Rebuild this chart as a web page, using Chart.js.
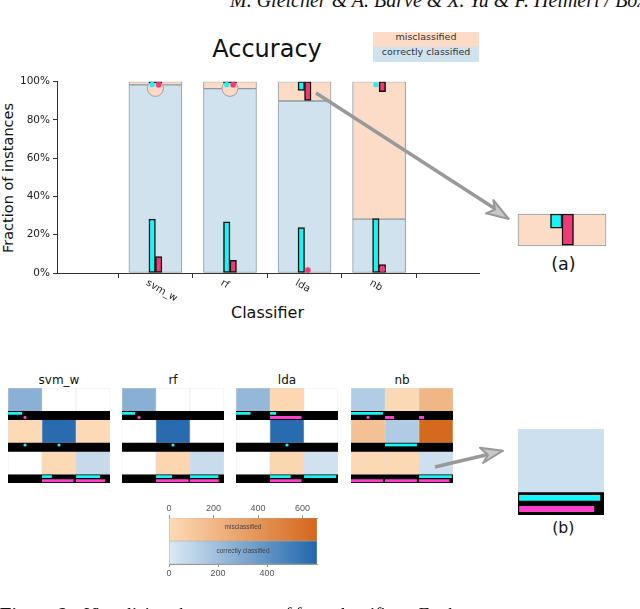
<!DOCTYPE html>
<html>
<head>
<meta charset="utf-8">
<script src="https://cdn.jsdelivr.net/npm/chart.js@4.4.1/dist/chart.umd.min.js"></script>
<style>
  body { margin: 0; width: 640px; height: 609px; position: relative; overflow: hidden; background: #fff; font-family: "DejaVu Sans", sans-serif; color: #111; }
  .box { position: absolute; }
  .t { position: absolute; white-space: nowrap; }
  .c { text-align: center; }
</style>
</head>
<body>

<div class="t" style="left:230px;top:-10.3px;font:italic 20px/20px 'Liberation Serif',serif;">M. Gleicher &amp; A. Barve &amp; X. Yu &amp; F. Heimerl / Boxer</div>

<div class="t c" style="left:167px;width:200px;top:35.5px;font-size:24px;line-height:26px;">Accuracy</div>
<div class="box" style="left:373px;top:32px;width:106px;height:15px;background:#fddcc7;"></div>
<div class="box" style="left:373px;top:47px;width:106px;height:15px;background:#cfe2ee;"></div>
<div class="t c" style="left:373px;width:106px;top:32.3px;font-size:9.5px;line-height:10px;color:#333;">misclassified</div>
<div class="t c" style="left:373px;width:106px;top:46.7px;font-size:9.5px;line-height:10px;color:#333;">correctly classified</div>
<div class="t c" style="left:-91.7px;width:200px;top:169.5px;font-size:14.5px;line-height:16px;transform:rotate(-90deg);">Fraction of instances</div>
<div class="t c" style="left:167.5px;width:200px;top:303.7px;font-size:16px;line-height:18px;">Classifier</div>

<div class="box" style="left:0;top:70px;width:490px;height:265px;"><canvas id="main"></canvas></div>
<div class="box" style="left:517px;top:213px;width:90px;height:34px;"><canvas id="zoomA"></canvas></div>
<div class="t c" style="left:513.5px;width:100px;top:254px;font-size:17.5px;line-height:20px;">(a)</div>

<div class="t c" id="mt0" style="left:8px;width:102px;top:372.5px;font-size:12px;line-height:14px;"></div>
<div class="t c" id="mt1" style="left:122px;width:102px;top:372.5px;font-size:12px;line-height:14px;"></div>
<div class="t c" id="mt2" style="left:236px;width:102px;top:372.5px;font-size:12px;line-height:14px;"></div>
<div class="t c" id="mt3" style="left:351px;width:102px;top:372.5px;font-size:12px;line-height:14px;"></div>
<div class="box" style="left:8px;top:388px;width:102px;height:95px;"><canvas id="m0"></canvas></div>
<div class="box" style="left:122px;top:388px;width:102px;height:95px;"><canvas id="m1"></canvas></div>
<div class="box" style="left:236px;top:388px;width:102px;height:95px;"><canvas id="m2"></canvas></div>
<div class="box" style="left:351px;top:388px;width:102px;height:95px;"><canvas id="m3"></canvas></div>

<div class="box" style="left:518px;top:429px;width:86px;height:86px;"><canvas id="zoomB"></canvas></div>
<div class="t c" style="left:513.3px;width:100px;top:519.2px;font-size:15.7px;line-height:18px;">(b)</div>

<div class="box" style="left:150px;top:495px;width:185px;height:85px;"><canvas id="cbar"></canvas></div>
<div class="t c" style="left:193px;width:100px;top:523px;font:6.5px/8px 'Liberation Sans',sans-serif;color:#444;">misclassified</div>
<div class="t c" style="left:193px;width:100px;top:547px;font:6.5px/8px 'Liberation Sans',sans-serif;color:#444;">correctly classified</div>

<svg class="box" style="left:0;top:0;" width="640" height="609">
  <line x1="316" y1="93" x2="497" y2="210" stroke="#999" stroke-width="3.5"/>
  <polygon points="508.7,219 493.3,200 495,209.5 486,213.3" fill="#c8c8c8" stroke="#999" stroke-width="2" stroke-linejoin="round"/>
  <line x1="435" y1="467" x2="492" y2="453.5" stroke="#999" stroke-width="3.5"/>
  <polygon points="503,450.7 480,447.7 488,455 483,463" fill="#c8c8c8" stroke="#999" stroke-width="2" stroke-linejoin="round"/>
</svg>

<div class="t" style="left:0;top:604.5px;font:19px/19px 'Liberation Serif',serif;"><b>Figure 2:</b>&nbsp; <i>Visualizing the accuracy of four classifiers. Each</i></div>

<script>
Chart.defaults.animation = false;
Chart.defaults.font.family = 'DejaVu Sans';
Chart.defaults.plugins.legend.display = false;
Chart.defaults.plugins.tooltip.enabled = false;
Chart.defaults.layout.autoPadding = false;

// accuracy chart (percent of instances)
const classifiers = ['svm_w', 'rf', 'lda', 'nb'];
const correctPct = [98.3, 96.4, 89.9, 28.2];
const cyanLow = [28.2, 26.8, 23.8, 28.4];
const pinkLow = [8.6, 6.6, 0, 4.4];
const cyanHigh = [0.6, 0.6, 4.5, 0];
const pinkHigh = [0.6, 0.6, 9.8, 5.2];
const cyanDot = [98.4, 98.4, null, 98.4];
const pinkDot = [98.4, 98.4, 1.5, 2.0];
const halo = [96.5, 96.5, null, null];
const yTicks = [0, 20, 40, 60, 80, 100];
const zoomIdx = 2;

// confusion matrices: counts, and fractions for the cyan / pink bars under each row
const counts = [
  [[265, 0, 0], [8, 580, 8], [0, 8, 71]],
  [[270, 0, 0], [0, 580, 0], [0, 30, 65]],
  [[229, 22, 0], [0, 580, 0], [0, 25, 40]],
  [[135, 10, 212], [149, 140, 650], [12, 12, 48]]
];
const cyanFrac = [
  [[0.42, 0, 0], [0.01, 0.01, 0], [0, 0.29, 0.71]],
  [[0.39, 0, 0], [0, 0.01, 0], [0, 0.47, 0.84]],
  [[0.43, 0.18, 0], [0, 0.01, 0], [0, 0.61, 0.95]],
  [[0.94, 0, 0], [0, 0.94, 0], [0, 0, 0.97]]
];
const pinkFrac = [
  [[0.01, 0, 0], [0, 0, 0], [0, 0.93, 0.86]],
  [[0.01, 0, 0], [0, 0, 0], [0, 0.96, 0.85]],
  [[0, 0.93, 0], [0, 0, 0], [0, 0.93, 0]],
  [[0.01, 0.27, 0.15], [0, 0, 0], [0.94, 0.94, 0.9]]
];
const misTicks = [0, 200, 400, 600];
const corTicks = [0, 200, 400];
const misMax = 665;
const corMax = 604;

const CYAN = '#17f6f6', PINK = '#ee3b78', MAG = '#ff40c8';
const blueLo = [220, 234, 245], blueHi = [33, 102, 172];
const orangeLo = [253, 219, 183], orangeHi = [212, 102, 26];

function mix(a, b, t) {
  t = Math.max(0, Math.min(1, t));
  return 'rgb(' + a.map((v, i) => Math.round(v + (b[i] - v) * t)).join(',') + ')';
}
function cellColor(v, diag) {
  if (!v) return '#ffffff';
  return diag ? mix(blueLo, blueHi, v / corMax) : mix(orangeLo, orangeHi, v / misMax);
}

// moves scatter points sideways so they sit over the cyan / pink bar
const shiftPlugin = {
  id: 'shift',
  afterDatasetsUpdate(chart) {
    chart.data.datasets.forEach((ds, i) => {
      if (ds.shiftPx) chart.getDatasetMeta(i).data.forEach(p => { p.x += ds.shiftPx; });
    });
  }
};

const xLabels = {
  id: 'xlabels',
  afterDraw(chart) {
    const { ctx } = chart;
    const x = chart.scales.x;
    ctx.save();
    ctx.font = '10px "DejaVu Sans"';
    ctx.fillStyle = '#222';
    ctx.textAlign = 'left';
    ctx.textBaseline = 'top';
    classifiers.forEach((name, i) => {
      ctx.save();
      ctx.translate(x.getPixelForValue(i + 1) - 6, x.top + 5);
      ctx.rotate(Math.PI / 6);
      ctx.fillText(name, 0, 0);
      ctx.restore();
    });
    ctx.restore();
  }
};

const pos = classifiers.map((_, i) => i + 1);
const bg = (arr, fn) => arr.map((v, i) => ({ x: pos[i], y: fn(v, i) }));
const keep = (arr, fn) => arr.map((v, i) => v ? { x: pos[i], y: fn(v, i) } : null).filter(Boolean);
const dots = arr => arr.map((v, i) => v == null ? null : { x: pos[i], y: v }).filter(Boolean);

const bigBar = { type: 'bar', grouped: false, barThickness: 53, borderColor: '#8f9ba3', borderWidth: 1, borderSkipped: false, order: 20 };
const smallBar = { type: 'bar', barThickness: 6.5, borderColor: '#111', borderWidth: 1.5, borderSkipped: false };

new Chart(document.getElementById('main'), {
  type: 'bar',
  data: {
    datasets: [
      { ...bigBar, label: 'correctly classified', data: bg(correctPct, v => [0, v]), backgroundColor: '#cfe2ee' },
      { ...bigBar, label: 'misclassified', data: bg(correctPct, v => [v, 100]), backgroundColor: '#fddcc7' },
      { type: 'scatter', data: dots(halo), pointRadius: 8, backgroundColor: '#fbd9c5', borderColor: '#a5a09c', borderWidth: 1, order: 15 },
      { ...smallBar, stack: 'c', order: 5, data: keep(cyanLow, v => [0, v]), backgroundColor: CYAN },
      { ...smallBar, stack: 'c', order: 5, data: keep(cyanHigh, v => [100 - v, 100]), backgroundColor: CYAN },
      { ...smallBar, stack: 'p', order: 6, data: keep(pinkLow, v => [0, v]), backgroundColor: PINK },
      { ...smallBar, stack: 'p', order: 6, data: keep(pinkHigh, v => [100 - v, 100]), backgroundColor: PINK },
      { type: 'scatter', data: dots(cyanDot), shiftPx: -3.25, pointRadius: 2.6, backgroundColor: CYAN, borderWidth: 0, order: 1 },
      { type: 'scatter', data: dots(pinkDot), shiftPx: 3.25, pointRadius: 2.6, backgroundColor: PINK, borderColor: 'rgba(238,59,120,0.35)', borderWidth: 1.5, order: 1 }
    ]
  },
  options: {
    responsive: true,
    maintainAspectRatio: false,
    layout: { padding: { top: 11.7, right: 11, left: 0, bottom: 0 } },
    scales: {
      x: {
        type: 'linear', min: -0.32, max: 5.34, offset: false,
        afterBuildTicks: s => { s.ticks = pos.map(v => ({ value: v })); },
        ticks: { display: false },
        grid: { drawOnChartArea: false, tickLength: 5, color: '#333' },
        border: { color: '#333' },
        afterFit: s => { s.height = 62; }
      },
      y: {
        min: 0, max: 100, stacked: false,
        afterBuildTicks: s => { s.ticks = yTicks.map(v => ({ value: v })); },
        ticks: { callback: v => v + '%', font: { size: 10.5 }, color: '#222', padding: 3 },
        grid: { drawOnChartArea: false, tickLength: 4, color: '#333' },
        border: { color: '#333' },
        afterFit: s => { s.width = 57; }
      }
    }
  },
  plugins: [shiftPlugin, xLabels]
});

// enlarged top of the lda bar
const aEl = document.getElementById('zoomA');
new Chart(aEl, {
  type: 'bar',
  data: {
    datasets: [
      { ...bigBar, clip: false, barThickness: 88, data: [{ x: pos[zoomIdx], y: [correctPct[zoomIdx], 100] }], backgroundColor: '#fddcc7' },
      { ...smallBar, clip: false, barThickness: 11.5, stack: 'c', order: 5, data: [{ x: pos[zoomIdx], y: [100 - cyanHigh[zoomIdx], 100] }], backgroundColor: CYAN },
      { ...smallBar, clip: false, barThickness: 11.5, stack: 'p', order: 6, data: [{ x: pos[zoomIdx], y: [100 - pinkHigh[zoomIdx], 100] }], backgroundColor: PINK }
    ]
  },
  options: {
    responsive: true, maintainAspectRatio: false,
    layout: { padding: 1 },
    scales: {
      x: { type: 'linear', min: pos[zoomIdx] - 0.5, max: pos[zoomIdx] + 0.5, display: false, offset: false },
      y: { min: correctPct[zoomIdx], max: 100, display: false, stacked: false }
    }
  }
});

// a confusion matrix (or a window of it) with the bar strip under every row
function makeMatrix(canvas, k, r0, c0, n, edge) {
  const rowPx = canvas.parentNode.clientHeight / n;
  const cells = [], bands = [], cy = [], pk = [], cyD = [], pkD = [];
  for (let r = r0; r < r0 + n; r++) {
    bands.push({ y: r + 0.87, x: [c0, c0 + n] });
    for (let c = c0; c < c0 + n; c++) {
      cells.push({ y: r + 0.37, x: [c, c + 1], v: counts[k][r][c], d: r === c });
      const cv = cyanFrac[k][r][c], pv = pinkFrac[k][r][c];
      if (cv >= 0.05) cy.push({ y: r + 0.8, x: [c, c + cv] }); else if (cv > 0) cyD.push({ x: c + 0.5, y: r + 0.8 });
      if (pv >= 0.05) pk.push({ y: r + 0.93, x: [c, c + pv] }); else if (pv > 0) pkD.push({ x: c + 0.5, y: r + 0.93 });
    }
  }
  const hb = { type: 'bar', indexAxis: 'y', grouped: false, borderSkipped: false };
  new Chart(canvas, {
    type: 'bar',
    data: {
      datasets: [
        { ...hb, data: cells, barThickness: rowPx * 0.74, order: 10,
          backgroundColor: ctx => ctx.raw ? cellColor(ctx.raw.v, ctx.raw.d) : '#fff',
          borderColor: 'rgba(0,0,0,0.13)', borderWidth: 0.6 },
        { ...hb, data: bands, barThickness: rowPx * 0.26, order: 9, backgroundColor: '#000', borderWidth: 0 },
        { ...hb, data: cy, barThickness: rowPx * 0.095, order: 5, backgroundColor: CYAN, borderColor: '#000', borderWidth: edge },
        { ...hb, data: pk, barThickness: rowPx * 0.095, order: 5, backgroundColor: MAG, borderColor: '#000', borderWidth: edge },
        { type: 'scatter', data: cyD, pointRadius: 1.6, backgroundColor: CYAN, borderWidth: 0, order: 1 },
        { type: 'scatter', data: pkD, pointRadius: 1.6, backgroundColor: MAG, borderWidth: 0, order: 1 }
      ]
    },
    options: {
      responsive: true, maintainAspectRatio: false,
      layout: { padding: 0 },
      scales: {
        x: { type: 'linear', min: c0, max: c0 + n, display: false, offset: false, stacked: false },
        y: { type: 'linear', min: r0, max: r0 + n, reverse: true, display: false, offset: false, stacked: false }
      }
    }
  });
}

classifiers.forEach((name, k) => {
  document.getElementById('mt' + k).textContent = name;
  makeMatrix(document.getElementById('m' + k), k, 0, 0, 3, 0.4);
});
makeMatrix(document.getElementById('zoomB'), 3, 2, 2, 1, 1.5);

// colour scale
function grad(lo, hi) {
  return ctx => {
    const ca = ctx.chart.chartArea;
    if (!ca) return mix(lo, hi, 0.5);
    const g = ctx.chart.ctx.createLinearGradient(ca.left, 0, ca.right, 0);
    g.addColorStop(0, mix(lo, hi, 0));
    g.addColorStop(1, mix(lo, hi, 1));
    return g;
  };
}
const cbAxis = {
  type: 'linear', min: 0, offset: false,
  ticks: { font: { family: 'Liberation Sans', size: 9 }, color: '#555', padding: 1 },
  grid: { drawOnChartArea: false, tickLength: 3, color: '#999' },
  border: { color: '#999' }
};
new Chart(document.getElementById('cbar'), {
  type: 'bar',
  data: {
    labels: ['misclassified', 'correctly classified'],
    datasets: [
      { indexAxis: 'y', grouped: false, xAxisID: 'xt', data: [{ y: 'misclassified', x: [0, misMax] }], backgroundColor: grad(orangeLo, orangeHi), borderColor: '#aaa', borderWidth: 0.6, borderSkipped: false },
      { indexAxis: 'y', grouped: false, xAxisID: 'xb', data: [{ y: 'correctly classified', x: [0, corMax] }], backgroundColor: grad(blueLo, blueHi), borderColor: '#aaa', borderWidth: 0.6, borderSkipped: false }
    ]
  },
  options: {
    indexAxis: 'y',
    responsive: true, maintainAspectRatio: false,
    layout: { padding: { left: 19, right: 18, top: 0, bottom: 0 } },
    datasets: { bar: { barPercentage: 1, categoryPercentage: 1 } },
    scales: {
      y: { type: 'category', display: false },
      xt: { ...cbAxis, position: 'top', max: misMax,
        afterBuildTicks: s => { s.ticks = misTicks.map(v => ({ value: v })); },
        afterFit: s => { s.height = 23; } },
      xb: { ...cbAxis, position: 'bottom', max: corMax,
        afterBuildTicks: s => { s.ticks = corTicks.map(v => ({ value: v })); },
        afterFit: s => { s.height = 16; } }
    }
  }
});
</script>
</body>
</html>
